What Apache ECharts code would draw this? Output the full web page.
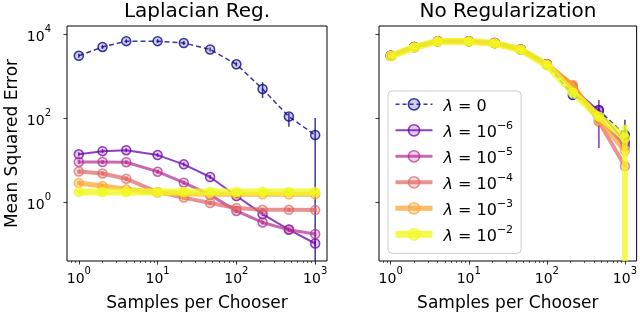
<!DOCTYPE html>
<html>
<head>
<meta charset="utf-8">
<script src="https://cdn.jsdelivr.net/npm/echarts@6/dist/echarts.min.js"></script>
<style>html,body{margin:0;padding:0;background:#fff}#c{width:640px;height:317px}</style>
</head>
<body>
<div id="c"></div>
<script>
// ---- data ----
const samples = [1, 2, 4, 10, 21.5, 46.4, 100, 215, 464, 1000];
const lambdaNames = ['λ = 0', 'λ = 10^-6', 'λ = 10^-5', 'λ = 10^-4', 'λ = 10^-3', 'λ = 10^-2'];
const majorTicks = [1, 10, 100, 1000];
const minorTicks = [0.8, 0.9, 2, 3, 4, 5, 6, 7, 8, 9, 20, 30, 40, 50, 60, 70, 80, 90, 200, 300, 400, 500, 600, 700, 800, 900];
const yTicks = [1, 100, 10000];

// Laplacian Reg.
const lapLam0 = [3090, 5030, 6900, 6900, 6240, 4370, 1940, 500, 110, 40];
const lapLam6 = [13.9, 16.5, 17.4, 13.3, 8.0, 4.0, 1.41, 0.52, 0.224, 0.104];
const lapLam5 = [9.1, 9.1, 9.0, 5.35, 2.92, 1.5, 0.62, 0.33, 0.22, 0.175];
const lapLam4 = [5.4, 4.85, 3.63, 1.75, 1.29, 0.96, 0.73, 0.66, 0.66, 0.65];
const lapLam3 = [2.89, 2.45, 2.03, 1.70, 1.59, 1.55, 1.55, 1.55, 1.55, 1.55];
const lapLam2 = [1.75, 1.75, 1.75, 1.75, 1.75, 1.75, 1.75, 1.75, 1.75, 1.75];
// error bars [index, low, high]
const lapErr0 = [[7, 303, 725], [8, 63, 134], [9, 0.001, 102]];
const lapErr6 = [[9, 0.09, 0.125]];

// No Regularization
const noLam0 = [3090, 5030, 6900, 6900, 6240, 4370, 1940, 360, 158, 40];
const noLam6 = [3090, 5030, 6900, 6900, 6240, 4370, 1940, 520, 150, 27];
const noLam5 = [3090, 5030, 6900, 6900, 6240, 4370, 1940, 580, 100, 22];
const noLam4 = [3090, 5030, 6900, 6900, 6240, 4370, 1940, 617, 84, 7.2];
const noLam3 = [3090, 5030, 6900, 6900, 6240, 4370, 1940, 617, 90, 17];
const noLam2 = [3000, 4900, 6800, 6800, 6100, 4300, 1850, 414, 110, 34];
const noErr0 = [[7, 300, 430], [9, 20, 92]];
const noErr6 = [[8, 19.6, 272]];
const noErr2 = [[9, 0.001, 70]];

// ---- styles ----
const colors = ['rgba(13,8,135,0.8)', 'rgba(106,0,168,0.75)', 'rgba(177,42,144,0.7)', 'rgba(225,100,98,0.7)', 'rgba(252,166,54,0.75)', 'rgba(240,249,33,0.8)'];
const fills = ['rgba(13,8,135,0.2)', 'rgba(106,0,168,0.2)', 'rgba(177,42,144,0.2)', 'rgba(225,100,98,0.25)', 'rgba(252,166,54,0.3)', 'rgba(240,249,33,0.5)'];
const widths = [1.5, 2, 3, 4, 5, 7];
const FONT = 'DejaVu Sans';

const lapSets = [lapLam0, lapLam6, lapLam5, lapLam4, lapLam3, lapLam2];
const noSets = [noLam0, noLam6, noLam5, noLam4, noLam3, noLam2];
const lapErrs = [lapErr0, lapErr6, [], [], [], []];
const noErrs = [noErr0, noErr6, [], [], [], noErr2];

function buildErr(vals, errs) {
  const out = vals.map((v, i) => [samples[i], v, v]);
  errs.forEach(e => { out[e[0]] = [samples[e[0]], e[1], e[2]]; });
  return out;
}

const series = [];
function addPanel(sets, errs, g) {
  sets.forEach((vals, k) => {
    series.push({
      name: lambdaNames[k], type: 'line', xAxisIndex: g * 2, yAxisIndex: g,
      data: vals.map((v, i) => [samples[i], v]),
      symbol: 'circle', symbolSize: 9,
      lineStyle: { color: colors[k], width: widths[k], type: k === 0 ? [5, 3] : 'solid' },
      itemStyle: { color: fills[k], borderColor: colors[k], borderWidth: 1.5 },
      z: 2 + k * 2, silent: true, animation: false
    });
    const col = colors[k], w = Math.max(1.5, widths[k] * 0.8);
    series.push({
      name: lambdaNames[k], type: 'custom', xAxisIndex: g * 2, yAxisIndex: g,
      data: buildErr(vals, errs[k]), clip: true, z: 3 + k * 2, silent: true, animation: false,
      renderItem: function (params, api) {
        const x = api.value(0);
        const p1 = api.coord([x, api.value(2)]);
        const p2 = api.coord([x, api.value(1)]);
        let y1 = p1[1], y2 = p2[1];
        if (y2 - y1 < 4) { const m = (y1 + y2) / 2; y1 = m - 2; y2 = m + 2; }
        return { type: 'line', shape: { x1: p1[0], y1: y1, x2: p1[0], y2: y2 }, style: { stroke: col, lineWidth: w } };
      }
    });
  });
}
addPanel(lapSets, lapErrs, 0);
addPanel(noSets, noErrs, 1);

function powLabel(v) {
  const e = Math.round(Math.log10(v));
  return '{b|10}{s|' + e + '}';
}
const labelRich = { b: { fontSize: 14, fontFamily: FONT, color: '#000', lineHeight: 20, verticalAlign: 'bottom' }, s: { fontSize: 10, fontFamily: FONT, color: '#000', lineHeight: 20, verticalAlign: 'top' } };

function xAxes(g) {
  return [{
    type: 'log', gridIndex: g, min: 0.708, max: 1413,
    name: 'Samples per Chooser', nameLocation: 'middle', nameGap: 34,
    nameTextStyle: { fontSize: 17, fontFamily: FONT, color: '#000' },
    axisLine: { show: false },
    axisTick: { show: true, inside: false, length: 3.5, lineStyle: { color: '#000', width: 0.8 }, customValues: majorTicks },
    axisLabel: { show: true, margin: 5, formatter: powLabel, rich: labelRich, customValues: majorTicks },
    splitLine: { show: false }, minorTick: { show: false }
  }, {
    type: 'log', gridIndex: g, min: 0.708, max: 1413, position: 'bottom',
    axisLine: { show: false },
    axisTick: { show: true, inside: false, length: 2, lineStyle: { color: '#000', width: 0.6 }, customValues: minorTicks },
    axisLabel: { show: false, customValues: minorTicks },
    splitLine: { show: false }
  }];
}
function yAxis(g) {
  return {
    type: 'log', gridIndex: g, min: 0.0398, max: 15849,
    name: g === 0 ? 'Mean Squared Error' : '', nameLocation: 'middle', nameGap: 46,
    nameTextStyle: { fontSize: 17, fontFamily: FONT, color: '#000' },
    axisLine: { show: false },
    axisTick: { show: true, inside: false, length: 3.5, lineStyle: { color: '#000', width: 0.8 }, customValues: yTicks },
    axisLabel: { show: g === 0, margin: 16, formatter: powLabel, rich: labelRich, customValues: yTicks },
    splitLine: { show: false }
  };
}

function legendLabel(name) {
  const m = name.match(/10\^(-?\d+)/);
  if (!m) return '{i|λ}{t| = 0}';
  return '{i|λ}{t| = 10}{s|−' + m[1].replace('-', '') + '}';
}

const titleStyle = { fontSize: 20, fontWeight: 'normal', fontFamily: FONT, color: '#000' };
const option = {
  backgroundColor: '#fff',
  animation: false,
  title: [
    { text: 'Laplacian Reg.', left: 197, top: 2, padding: 0, textAlign: 'center', textStyle: titleStyle },
    { text: 'No Regularization', left: 508, top: 2, padding: 0, textAlign: 'center', textStyle: titleStyle }
  ],
  grid: [
    { left: 67, top: 26, width: 260, height: 236, show: true, borderColor: '#000', borderWidth: 1, backgroundColor: 'transparent' },
    { left: 379, top: 26, width: 259, height: 236, show: true, borderColor: '#000', borderWidth: 1, backgroundColor: 'transparent' }
  ],
  xAxis: xAxes(0).concat(xAxes(1)),
  yAxis: [yAxis(0), yAxis(1)],
  legend: {
    orient: 'vertical', left: 388, top: 91,
    itemWidth: 37, itemHeight: 14, itemGap: 6,
    padding: [7, 8, 9, 4],
    borderColor: '#cccccc', borderWidth: 1, borderRadius: 4, backgroundColor: 'rgba(255,255,255,0.85)',
    selectedMode: false,
    data: lambdaNames.map((n, k) => ({ name: n, itemStyle: { color: fills[k], borderColor: colors[k], borderWidth: 1.5 }, lineStyle: { color: colors[k], width: widths[k], type: k === 0 ? [4, 3] : 'solid' } })),
    formatter: legendLabel,
    textStyle: {
      padding: [0, 0, 0, 6],
      rich: {
        i: { fontSize: 16, fontFamily: FONT, fontStyle: 'italic', color: '#000', lineHeight: 20, verticalAlign: 'bottom' },
        t: { fontSize: 16, fontFamily: FONT, color: '#000', lineHeight: 20, verticalAlign: 'bottom' },
        s: { fontSize: 11, fontFamily: FONT, color: '#000', lineHeight: 20, verticalAlign: 'top' }
      }
    }
  },
  series: series
};

const chart = echarts.init(document.getElementById('c'), null, { renderer: 'canvas' });
chart.setOption(option);
</script>
</body>
</html>
